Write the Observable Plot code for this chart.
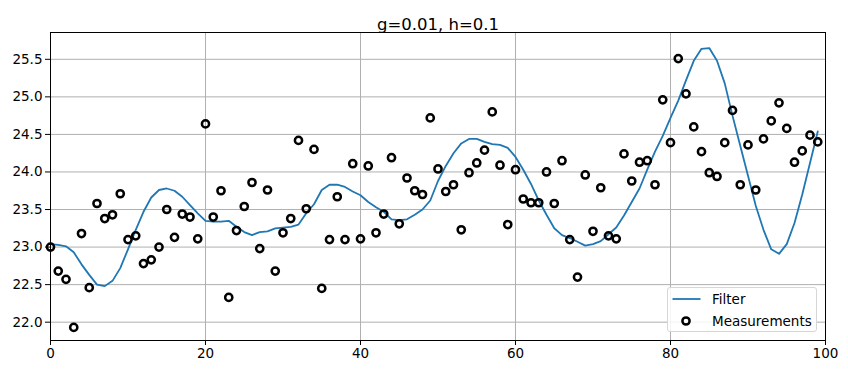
<!DOCTYPE html>
<html><head><meta charset="utf-8">
<script src="https://cdn.jsdelivr.net/npm/d3@7"></script>
<script src="https://cdn.jsdelivr.net/npm/@observablehq/plot@0.6"></script>
<style>
body{margin:0;background:#fff;font-family:"DejaVu Sans",sans-serif;}
#wrap{position:relative;width:848px;height:374px;overflow:hidden;}
#legend{position:absolute;left:667px;top:287px;width:150px;height:45px;border:1px solid #d6d6d6;border-radius:3px;background:rgba(255,255,255,0.85);box-sizing:border-box;}
#legend svg{position:absolute;left:0;top:0;}
</style></head><body><div id="wrap"></div>
<script>
const title = "g=0.01, h=0.1";
const legendLabels = ["Filter", "Measurements"];
const xTicks = [0, 20, 40, 60, 80, 100];
const yTicks = [22.0, 22.5, 23.0, 23.5, 24.0, 24.5, 25.0, 25.5];

const measurements = [
  23.00, 22.68, 22.57, 21.93, 23.18, 22.46, 23.58, 23.38, 23.43, 23.71,
  23.10, 23.15, 22.78, 22.83, 23.00, 23.50, 23.13, 23.44, 23.40, 23.11,
  24.64, 23.40, 23.75, 22.33, 23.22, 23.54, 23.86, 22.98, 23.76, 22.68,
  23.19, 23.38, 24.42, 23.51, 24.30, 22.45, 23.10, 23.67, 23.10, 24.11,
  23.11, 24.08, 23.19, 23.44, 24.19, 23.31, 23.92, 23.75, 23.70, 24.72,
  24.04, 23.74, 23.83, 23.23, 23.99, 24.12, 24.29, 24.80, 24.09, 23.30,
  24.03, 23.64, 23.59, 23.59, 24.00, 23.58, 24.15, 23.10, 22.60, 23.96,
  23.21, 23.79, 23.15, 23.11, 24.24, 23.88, 24.13, 24.15, 23.83, 24.96,
  24.39, 25.51, 25.04, 24.60, 24.27, 23.99, 23.94, 24.39, 24.82, 23.83,
  24.36, 23.76, 24.44, 24.68, 24.92, 24.58, 24.13, 24.28, 24.49, 24.40
];

const filterValues = [
  23.04, 23.03, 23.01, 22.93, 22.77, 22.63, 22.50, 22.48, 22.55, 22.72,
  22.97, 23.23, 23.47, 23.66, 23.76, 23.78, 23.75, 23.67, 23.56, 23.45,
  23.35, 23.34, 23.34, 23.35, 23.27, 23.20, 23.16, 23.20, 23.21, 23.25,
  23.26, 23.27, 23.30, 23.45, 23.57, 23.76, 23.83, 23.83, 23.80, 23.74,
  23.69, 23.60, 23.53, 23.47, 23.37, 23.36, 23.37, 23.43, 23.50, 23.62,
  23.88, 24.08, 24.25, 24.38, 24.44, 24.44, 24.40, 24.37, 24.36, 24.32,
  24.20, 24.03, 23.84, 23.62, 23.43, 23.25, 23.16, 23.12, 23.07, 23.02,
  23.04, 23.08, 23.17, 23.26, 23.42, 23.60, 23.78, 24.03, 24.27, 24.48,
  24.72, 24.95, 25.22, 25.48, 25.64, 25.65, 25.48, 25.18, 24.75, 24.35,
  23.95, 23.55, 23.23, 22.97, 22.91, 23.04, 23.32, 23.70, 24.12, 24.54
];

const meas = measurements.map((v, i) => ({x: i, y: v}));
const filt = filterValues.map((v, i) => ({x: i, y: v}));

const chart = Plot.plot({
  width: 848, height: 374,
  marginLeft: 50, marginRight: 23, marginTop: 32, marginBottom: 34,
  style: {fontFamily: "DejaVu Sans, sans-serif", fontSize: "13.5px", color: "black", background: "white", overflow: "visible"},
  x: {domain: [0, 100]},
  y: {domain: [21.756, 25.857]},
  marks: [
    Plot.gridX(xTicks, {stroke: "#b0b0b0", strokeOpacity: 1, strokeWidth: 1}),
    Plot.gridY(yTicks, {stroke: "#b0b0b0", strokeOpacity: 1, strokeWidth: 1}),
    Plot.line(filt, {x: "x", y: "y", stroke: "#1f77b4", strokeWidth: 1.8}),
    Plot.dot(meas, {x: "x", y: "y", r: 3.6, stroke: "black", strokeWidth: 2.5, fill: "none"}),
    Plot.frame({stroke: "black", strokeWidth: 1}),
    Plot.axisX(xTicks, {tickSize: 5, tickPadding: 3, tickFormat: d => String(d), label: null, fontSize: 13.5}),
    Plot.axisY(yTicks, {tickSize: 5, tickPadding: 3, tickFormat: d3.format(".1f"), label: null, fontSize: 13.5}),
    Plot.text([title], {frameAnchor: "top", dy: -14, fontSize: 16.5, fill: "black"})
  ]
});

const wrap = document.getElementById("wrap");
wrap.appendChild(chart);

const legend = document.createElement("div");
legend.id = "legend";
legend.innerHTML = `<svg width="150" height="45" font-family="DejaVu Sans, sans-serif" font-size="13.5">
  <line x1="4.5" x2="32.5" y1="11" y2="11" stroke="#1f77b4" stroke-width="1.8"></line>
  <text x="44" y="11" dy="0.36em" fill="black">${legendLabels[0]}</text>
  <circle cx="18" cy="33" r="3.6" fill="none" stroke="black" stroke-width="2.5"></circle>
  <text x="44" y="33" dy="0.36em" fill="black">${legendLabels[1]}</text>
</svg>`;
wrap.appendChild(legend);
</script>
</body></html>
